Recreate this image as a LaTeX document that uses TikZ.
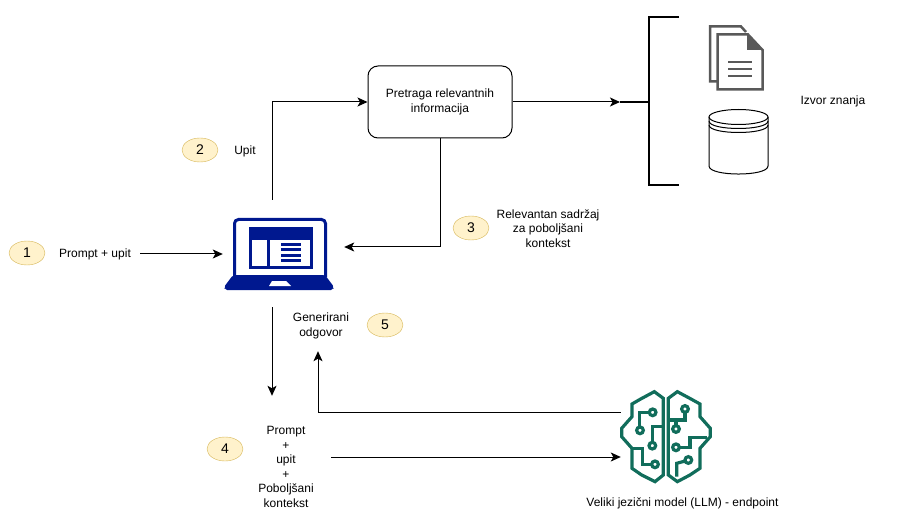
\documentclass[tikz,border=0pt]{standalone}
\usepackage{fontspec}
\setmainfont{Liberation Sans}
\usetikzlibrary{shapes,arrows.meta}
\definecolor{laptopblue}{HTML}{00188F}
\definecolor{braingreen}{HTML}{116D5B}
\definecolor{docgray}{HTML}{595959}
\definecolor{stepfill}{HTML}{FFF2CC}
\definecolor{stepline}{HTML}{D6B656}
\tikzstyle{line} = [draw, line width=1pt, -{Stealth[length=10pt,width=9pt,inset=2.5pt]}]
\tikzstyle{search} = [rectangle, draw, line width=1pt, rounded corners=10pt, minimum width=144pt,
    minimum height=72pt, inner sep=0pt, align=center, font=\fontsize{12}{14.5}\selectfont]
\tikzstyle{stepno} = [ellipse, draw=stepline, fill=stepfill, minimum width=36pt, minimum height=24pt,
    inner sep=0pt, font=\fontsize{14}{16}\selectfont]
\tikzstyle{label} = [inner sep=0pt, align=center, font=\fontsize{12}{14.5}\selectfont]
\tikzstyle{icon} = [inner sep=0pt]
\tikzstyle{brain} = [draw=braingreen, line width=3.2pt, line join=miter]

\begin{document}
\begin{tikzpicture}[x=1pt, y=-1pt]
    \useasboundingbox (0,0) rectangle (898,532);

    % Place nodes
    \node [search] (search) at (440,102) {Pretraga relevantnih\\informacija};
    \node [icon, minimum width=121pt, minimum height=107pt] (laptop) at (283.5,253.5) {};
    \node [icon, minimum width=94pt, minimum height=100pt] (brainbox) at (668,457) {};

    % Labels
    \node [label, minimum width=90pt] (promptupit) at (95,254.5) {Prompt + upit};
    \node [label] (upit) at (245,151.5) {Upit};
    \node [label] (relevant) at (548,228.5) {Relevantan sadržaj\\za poboljšani\\kontekst};
    \node [label] (izvor) at (833,101.5) {Izvor znanja};
    \node [label, minimum height=50pt] (odgovor) at (321,326) {Generirani\\odgovor};
    \node [label, minimum width=90pt, minimum height=142pt] (context) at (286,467) {Prompt\\+\\upit\\+\\Poboljšani\\kontekst};
    \node [label] (llm) at (682.5,503.5) {Veliki jezični model (LLM) - endpoint};

    % Steps
    \node [stepno] (s1) at (27,253) {1};
    \node [stepno] (s2) at (200,150) {2};
    \node [stepno] (s3) at (471,228) {3};
    \node [stepno] (s4) at (225,449) {4};
    \node [stepno] (s5) at (385,325) {5};

    % Bracket
    \coordinate (stem) at (620,102);
    \coordinate (brmid) at (649,102);
    \draw [line width=2.5pt] (679,17) -| (649,185) -- (679,185);
    \draw [line width=2.5pt] (stem) -- (brmid);

    % Draw edges
    \path [line] (promptupit.east |- 0,254) -- (laptop.west |- 0,254);
    \path [line] ([xshift=-11.5pt]laptop.north) |- (search.west);
    \path [line] (search.south) |- ([yshift=6.5pt]laptop.east);
    \path [line] (search.east) -- (stem);
    \path [line] ([xshift=-11.5pt]laptop.south) -- ([xshift=-14pt]context.north);
    \path [line] (brainbox.west |- 0,412) -| ([xshift=-3pt]odgovor.south);
    \path [line] ([yshift=10pt]context.east) -- (brainbox.west);

    % Laptop
    \begin{scope}[laptopblue]
        \draw [line width=3pt, rounded corners=4pt] (234.5,277) |- (325.5,219.5) -- (325.5,277);
        \fill [rounded corners=2pt] (233,275) -- (325,275) -- (334,287) -- (333,290) -- (225,290) -- (224,287) -- cycle;
        \fill (249,227) rectangle (313,269);
        \fill [white] (252,240) rectangle (267,266);
        \fill [white] (270,240) rectangle (310,266);
        \foreach \y in {243,248.5,254,259.5}
            \fill (281,\y) rectangle (301,\y+3);
        \fill [white] (272,281) -- (286,281) -- (291,286) -- (269,286) -- cycle;
    \end{scope}

    % Documents
    \begin{scope}[docgray, line width=2.5pt]
        \draw (717,81.5) -- (710,81.5) -- (710,26.5) -- (741,26.5) -- (746,32);
        \draw [fill=white] (717.5,34.5) -- (748,34.5) -- (762.5,50) -- (762.5,89.5) -- (717.5,89.5) -- cycle;
        \fill (747,34) -- (763,50) -- (747,50) -- cycle;
        \foreach \y in {62,69,76}
            \draw (728,\y) -- (752,\y);
    \end{scope}

    % Database
    \begin{scope}[line width=1pt]
        \draw (709,117) -- (709,166) .. controls (709,176.7) and (768,176.7) .. (768,166) -- (768,117);
        \draw (738.5,117) ellipse [x radius=29.5, y radius=7.5];
        \draw (709,121) .. controls (709,131) and (768,131) .. (768,121);
        \draw (709,125) .. controls (709,135) and (768,135) .. (768,125);
    \end{scope}

    % Brain
    \begin{scope}[shift={(600,380)}, x=0.3333pt, y=-0.3333pt]
        \draw [brain] (190,55) -- (163,35) -- (122,57) -- (96,72) -- (96,110) -- (65,145) -- (65,170) -- (96,205) -- (96,265) -- (125,285) -- (165,305) -- (190,285) -- cycle;
        \draw [brain] (205,55) -- (232,35) -- (273,57) -- (300,72) -- (300,110) -- (331,145) -- (331,170) -- (300,205) -- (300,265) -- (270,285) -- (232,305) -- (205,285) -- cycle;
        \draw [brain] (149,97) -- (118,97) -- (118,140);
        \draw [brain] (157,188) -- (157,140) -- (190,140);
        \draw [brain] (155,253) -- (128,253) -- (128,205) -- (96,205);
        \draw [brain] (255,96) -- (255,120) -- (205,120);
        \draw [brain] (228,120) -- (228,138);
        \draw [brain] (237,202) -- (270,202) -- (270,172) -- (320,172);
        \draw [brain] (256,243) -- (230,250) -- (230,290);
        \foreach \cx/\cy in {158/97,120/151,157/197,165/253,255/87,228/147,228/202,265/240}
            \draw [brain] (\cx,\cy) circle [radius=10];
    \end{scope}

\end{tikzpicture}
\end{document}
